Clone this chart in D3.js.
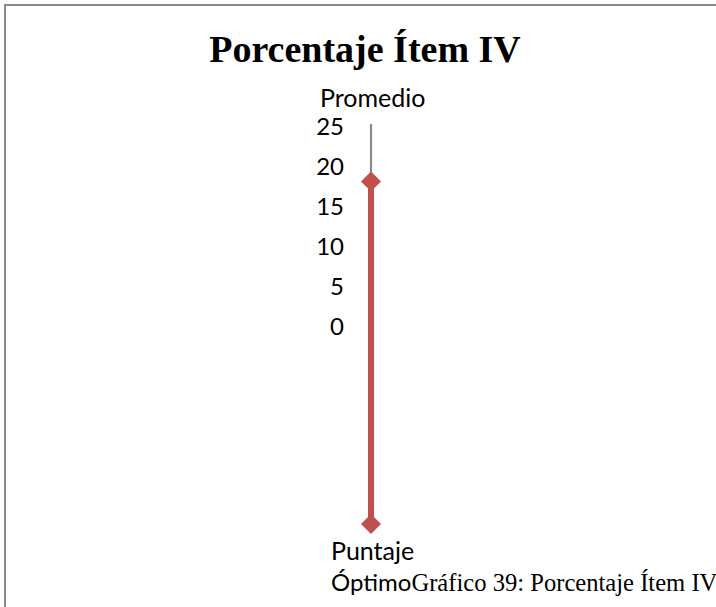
<!DOCTYPE html>
<html>
<head>
<meta charset="utf-8">
<script src="https://cdn.jsdelivr.net/npm/d3@7"></script>
<style>
  html, body { margin: 0; padding: 0; background: #fff; overflow: hidden; }
  svg { display: block; }
</style>
</head>
<body>
<svg id="chart" width="716" height="607"></svg>
<script>
// Radar chart data: two categories (spokes) and one series
const categories = ["Promedio", "Puntaje Óptimo"];
const seriesValues = [17.8, 25];
const tickValues = [0, 5, 10, 15, 20, 25];
const titleText = "Porcentaje Ítem IV";
const captionText = "Gráfico 39: Porcentaje Ítem IV";

const svg = d3.select("#chart");
const W = 716, H = 607;

// outer frame (only top and left edges fall inside the page)
svg.append("rect")
  .attr("x", 5).attr("y", 5)
  .attr("width", W + 20).attr("height", H + 20)
  .attr("fill", "#fff")
  .attr("stroke", "#8a8a8a")
  .attr("stroke-width", 2);

// title
svg.append("text")
  .attr("x", 365).attr("y", 62)
  .attr("text-anchor", "middle")
  .attr("font-family", "'Liberation Serif', 'DejaVu Serif', serif")
  .attr("font-weight", "bold")
  .attr("font-size", 38)
  .attr("fill", "#000")
  .text(titleText);

// radar geometry
const cx = 371, cy = 324;
const r = d3.scaleLinear().domain([0, 25]).range([0, 200]);
const angleOf = i => i * (2 * Math.PI / categories.length);

const g = svg.append("g").attr("transform", `translate(${cx},${cy})`);

// value axis along the first spoke
g.append("line")
  .attr("x1", 0).attr("y1", 0)
  .attr("x2", 0).attr("y2", -r(d3.max(tickValues)))
  .attr("stroke", "#8a8a8a")
  .attr("stroke-width", 2.2);

// value tick labels
const labelFont = "Lato, 'Open Sans', 'Liberation Sans', sans-serif";
g.selectAll("text.tick")
  .data(tickValues)
  .join("text")
  .attr("class", "tick")
  .attr("x", -27)
  .attr("y", d => -r(d) + 3)
  .attr("dy", "0.35em")
  .attr("text-anchor", "end")
  .attr("font-family", labelFont)
  .attr("font-size", 24)
  .attr("fill", "#000")
  .text(d => d);

// series polygon
const pts = seriesValues.map((v, i) => ({ a: angleOf(i), v }));
const radial = d3.lineRadial()
  .angle(d => d.a)
  .radius(d => r(d.v))
  .curve(d3.curveLinearClosed);

g.append("path")
  .attr("d", radial(pts))
  .attr("fill", "none")
  .attr("stroke", "#C0504D")
  .attr("stroke-width", 6)
  .attr("stroke-linejoin", "round");

// diamond markers
g.selectAll("path.marker")
  .data(pts)
  .join("path")
  .attr("class", "marker")
  .attr("transform", d => {
    const x = Math.sin(d.a) * r(d.v);
    const y = -Math.cos(d.a) * r(d.v);
    return `translate(${x},${y}) rotate(45)`;
  })
  .attr("d", d3.symbol().type(d3.symbolSquare).size(200))
  .attr("fill", "#C0504D");

// category labels
svg.append("text")
  .attr("x", 320).attr("y", 107)
  .attr("font-family", labelFont)
  .attr("font-size", 25)
  .attr("fill", "#000")
  .text(categories[0]);

const words = categories[1].split(" ");
svg.append("text")
  .attr("x", 331).attr("y", 560)
  .attr("font-family", labelFont)
  .attr("font-size", 25)
  .attr("fill", "#000")
  .text(words[0]);

const last = svg.append("text")
  .attr("x", 331).attr("y", 591)
  .attr("fill", "#000");
last.append("tspan")
  .attr("font-family", labelFont)
  .attr("font-size", 24)
  .text(words[1]);
last.append("tspan")
  .attr("font-family", "'Liberation Serif', 'DejaVu Serif', serif")
  .attr("font-size", 24.6)
  .text(captionText);
</script>
</body>
</html>
